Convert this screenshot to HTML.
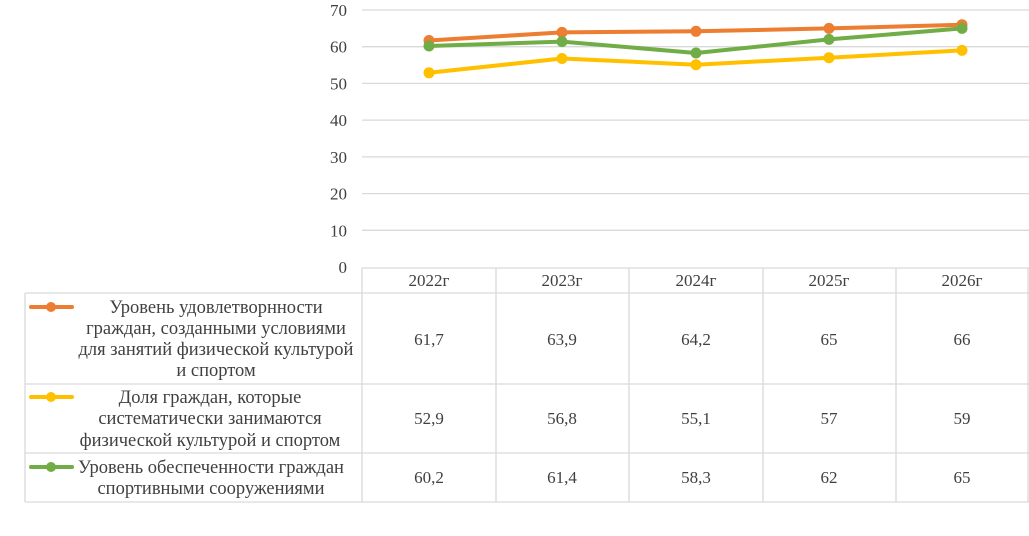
<!DOCTYPE html>
<html><head><meta charset="utf-8"><style>
body{margin:0;background:#fff;}
svg text{font-family:"Liberation Serif",serif;font-size:17px;fill:#404040;}
svg text.t{font-size:18.5px;}
</style></head><body>
<svg width="1029" height="531" xmlns="http://www.w3.org/2000/svg">
<g stroke="#d9d9d9" stroke-width="1.3">
<line x1="362" y1="10" x2="1029" y2="10"/>
<line x1="362" y1="46.7" x2="1029" y2="46.7"/>
<line x1="362" y1="83.4" x2="1029" y2="83.4"/>
<line x1="362" y1="120.1" x2="1029" y2="120.1"/>
<line x1="362" y1="156.9" x2="1029" y2="156.9"/>
<line x1="362" y1="193.6" x2="1029" y2="193.6"/>
<line x1="362" y1="230.3" x2="1029" y2="230.3"/>
</g>
<g text-anchor="end">
<text x="347" y="16">70</text><text x="347" y="52.7">60</text><text x="347" y="89.4">50</text>
<text x="347" y="126.1">40</text><text x="347" y="162.9">30</text><text x="347" y="199.6">20</text>
<text x="347" y="236.3">10</text><text x="347" y="273">0</text>
</g>
<g stroke="#d9d9d9" stroke-width="1.3" fill="none">
<line x1="362" y1="268" x2="1029" y2="268"/>
<line x1="25" y1="293" x2="1029" y2="293"/>
<line x1="25" y1="384" x2="1029" y2="384"/>
<line x1="25" y1="453" x2="1029" y2="453"/>
<line x1="25" y1="502" x2="1029" y2="502"/>
<line x1="25" y1="293" x2="25" y2="502"/>
<line x1="362" y1="268" x2="362" y2="502"/>
<line x1="496" y1="268" x2="496" y2="502"/>
<line x1="629" y1="268" x2="629" y2="502"/>
<line x1="763" y1="268" x2="763" y2="502"/>
<line x1="896" y1="268" x2="896" y2="502"/>
<line x1="1028" y1="268" x2="1028" y2="502"/>
</g>
<g text-anchor="middle">
<text x="429" y="286">2022г</text><text x="562" y="286">2023г</text><text x="696" y="286">2024г</text><text x="829" y="286">2025г</text><text x="962" y="286">2026г</text>
<text x="429" y="345">61,7</text><text x="562" y="345">63,9</text><text x="696" y="345">64,2</text><text x="829" y="345">65</text><text x="962" y="345">66</text>
<text x="429" y="424">52,9</text><text x="562" y="424">56,8</text><text x="696" y="424">55,1</text><text x="829" y="424">57</text><text x="962" y="424">59</text>
<text x="429" y="483">60,2</text><text x="562" y="483">61,4</text><text x="696" y="483">58,3</text><text x="829" y="483">62</text><text x="962" y="483">65</text>
<text class="t" x="216" y="313">Уровень удовлетворнности</text>
<text class="t" x="216" y="334">граждан, созданными условиями</text>
<text class="t" x="216" y="355">для занятий физической культурой</text>
<text class="t" x="216" y="376">и спортом</text>
<text class="t" x="210" y="403">Доля граждан, которые</text>
<text class="t" x="210" y="424">систематически занимаются</text>
<text class="t" x="210" y="446">физической культурой и спортом</text>
<text class="t" x="211" y="473">Уровень обеспеченности граждан</text>
<text class="t" x="211" y="494">спортивными сооружениями</text>
</g>
<g stroke-width="4" stroke-linecap="round">
<line x1="31" y1="307" x2="72" y2="307" stroke="#ed7d31"/><circle cx="51" cy="307" r="5" fill="#ed7d31"/>
<line x1="31" y1="397" x2="72" y2="397" stroke="#ffc000"/><circle cx="51" cy="397" r="5" fill="#ffc000"/>
<line x1="31" y1="467" x2="72" y2="467" stroke="#70ad47"/><circle cx="51" cy="467" r="5" fill="#70ad47"/>
</g>
<g fill="none" stroke-width="4" stroke-linejoin="round">
<polyline stroke="#ed7d31" points="429,40.5 562,32.4 696,31.3 829,28.4 962,24.7"/>
<polyline stroke="#ffc000" points="429,72.8 562,58.5 696,64.7 829,57.7 962,50.4"/>
<polyline stroke="#70ad47" points="429,46.0 562,41.6 696,53.0 829,39.4 962,28.4"/>
</g>
<g fill="#ed7d31"><circle cx="429" cy="40.5" r="5.5"/><circle cx="562" cy="32.4" r="5.5"/><circle cx="696" cy="31.3" r="5.5"/><circle cx="829" cy="28.4" r="5.5"/><circle cx="962" cy="24.7" r="5.5"/></g>
<g fill="#ffc000"><circle cx="429" cy="72.8" r="5.5"/><circle cx="562" cy="58.5" r="5.5"/><circle cx="696" cy="64.7" r="5.5"/><circle cx="829" cy="57.7" r="5.5"/><circle cx="962" cy="50.4" r="5.5"/></g>
<g fill="#70ad47"><circle cx="429" cy="46.0" r="5.5"/><circle cx="562" cy="41.6" r="5.5"/><circle cx="696" cy="53.0" r="5.5"/><circle cx="829" cy="39.4" r="5.5"/><circle cx="962" cy="28.4" r="5.5"/></g>
</svg>
</body></html>
